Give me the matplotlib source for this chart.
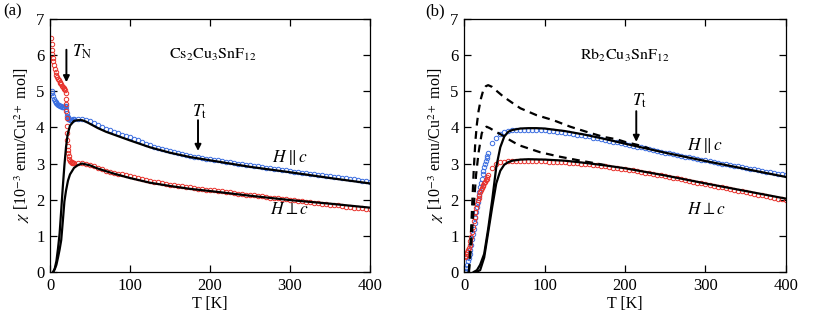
import matplotlib
matplotlib.use("Agg")
import matplotlib.pyplot as plt

plt.rcParams['font.family'] = ['Liberation Serif', 'DejaVu Serif']
plt.rcParams['mathtext.fontset'] = 'stix'

RED = '#e8322c'
BLUE = '#3b6ee0'

# ---------------- (a) Cs2Cu3SnF12 ----------------
t_grid = list(range(30, 405, 5))

cs_par_lowT = [2, 3, 4, 5, 6, 7, 8, 9, 10, 11, 12, 13, 14, 15, 16, 17, 18, 19, 20,
               20.5, 21, 21.5, 22, 22.5, 23, 24, 25, 26, 27, 28, 29]
cs_par_lowV = [5.02, 4.95, 4.88, 4.80, 4.74, 4.70, 4.67, 4.65, 4.63, 4.61, 4.60, 4.59,
               4.58, 4.57, 4.56, 4.56, 4.56, 4.60, 4.58, 4.50, 4.40, 4.33, 4.28, 4.25,
               4.23, 4.22, 4.21, 4.21, 4.21, 4.21, 4.22]
cs_par_hiV = [4.22, 4.22, 4.22, 4.21, 4.18, 4.13, 4.08, 4.02, 3.97, 3.92, 3.88, 3.84,
              3.80, 3.77, 3.74, 3.69, 3.64, 3.59, 3.55, 3.51, 3.47, 3.43, 3.40, 3.37,
              3.34, 3.31, 3.28, 3.26, 3.23, 3.21, 3.19, 3.17, 3.15, 3.14, 3.12, 3.10,
              3.09, 3.07, 3.05, 3.03, 3.02, 3.00, 2.99, 2.97, 2.95, 2.94, 2.92, 2.91,
              2.89, 2.88, 2.86, 2.85, 2.83, 2.82, 2.80, 2.78, 2.77, 2.75, 2.74, 2.72,
              2.71, 2.69, 2.68, 2.66, 2.65, 2.63, 2.62, 2.60, 2.59, 2.57, 2.56, 2.54,
              2.53, 2.51, 2.50]

cs_perp_lowT = [1.5, 2, 2.5, 3, 3.5, 4, 5, 6, 7, 8, 9, 10, 11, 12, 13, 14, 15, 16, 17,
                18, 19, 19.5, 20, 20.3, 20.6, 20.9, 21.2, 21.5, 21.8, 22.1, 22.5, 23,
                23.5, 24, 25, 26, 27, 28, 29]
cs_perp_lowV = [6.48, 6.30, 6.15, 6.03, 5.93, 5.85, 5.72, 5.62, 5.53, 5.46, 5.40, 5.35,
                5.30, 5.26, 5.22, 5.19, 5.16, 5.13, 5.10, 5.07, 5.03, 4.95, 4.80, 4.65,
                4.45, 4.25, 4.05, 3.85, 3.65, 3.50, 3.38, 3.28, 3.20, 3.14, 3.08, 3.05,
                3.03, 3.02, 3.02]
cs_perp_hiV = [3.02, 3.02, 3.02, 3.00, 2.96, 2.92, 2.88, 2.84, 2.80, 2.77, 2.74, 2.72,
               2.70, 2.68, 2.66, 2.63, 2.60, 2.57, 2.55, 2.52, 2.50, 2.48, 2.46, 2.44,
               2.42, 2.40, 2.38, 2.37, 2.35, 2.34, 2.32, 2.31, 2.29, 2.28, 2.27, 2.26,
               2.24, 2.23, 2.21, 2.20, 2.19, 2.17, 2.16, 2.14, 2.13, 2.12, 2.10, 2.09,
               2.08, 2.06, 2.05, 2.04, 2.02, 2.01, 2.00, 1.99, 1.97, 1.96, 1.94, 1.93,
               1.92, 1.90, 1.89, 1.88, 1.86, 1.85, 1.84, 1.82, 1.81, 1.80, 1.78, 1.77,
               1.76, 1.74, 1.73]

cs_fit_par_T = [4, 6, 8, 10, 12, 14, 16, 18, 20, 22, 25, 30, 35, 40, 45, 50, 60, 70, 80,
                100, 125, 150, 175, 200, 250, 300, 350, 400]
cs_fit_par_V = [0, 0.1, 0.3, 0.65, 1.06, 1.7, 2.35, 2.95, 3.45, 3.8, 4.05, 4.18, 4.2,
                4.2, 4.16, 4.1, 3.98, 3.88, 3.8, 3.64, 3.45, 3.3, 3.18, 3.09, 2.91, 2.76,
                2.6, 2.45]
cs_fit_perp_T = [4, 6, 8, 10, 12, 14, 16, 18, 20, 22.5, 25, 30, 35, 40, 50, 60, 80, 100,
                 125, 150, 175, 200, 250, 300, 350, 400]
cs_fit_perp_V = [0, 0.08, 0.2, 0.4, 0.62, 0.88, 1.4, 1.95, 2.25, 2.53, 2.7, 2.88, 2.96,
                 3.0, 2.95, 2.86, 2.72, 2.6, 2.47, 2.38, 2.3, 2.24, 2.11, 1.99, 1.89, 1.78]

# ---------------- (b) Rb2Cu3SnF12 ----------------
rb_lowT = [1.5, 2, 3, 4, 5, 6, 7, 8, 9, 10, 11, 12, 13, 14, 15, 16, 17, 18, 19, 20, 21,
           22, 23, 24, 25, 26, 27, 28, 29]
rb_par_lowV = [0.0, 0.02, 0.1, 0.2, 0.3, 0.4, 0.5, 0.6, 0.75, 0.9, 1.05, 1.2, 1.35, 1.5,
               1.65, 1.8, 1.95, 2.1, 2.22, 2.34, 2.46, 2.58, 2.7, 2.8, 2.9, 3.0, 3.08,
               3.15, 3.22]
rb_par_hiV = [3.28, 3.56, 3.72, 3.82, 3.88, 3.91, 3.93, 3.94, 3.94, 3.94, 3.94, 3.94,
              3.93, 3.93, 3.92, 3.91, 3.90, 3.88, 3.87, 3.85, 3.84, 3.82, 3.80, 3.78,
              3.77, 3.75, 3.72, 3.70, 3.68, 3.66, 3.63, 3.61, 3.59, 3.56, 3.54, 3.52,
              3.50, 3.47, 3.45, 3.42, 3.40, 3.38, 3.35, 3.33, 3.30, 3.28, 3.26, 3.24,
              3.21, 3.19, 3.17, 3.15, 3.13, 3.11, 3.09, 3.07, 3.04, 3.02, 3.00, 2.98,
              2.96, 2.94, 2.92, 2.90, 2.88, 2.86, 2.84, 2.82, 2.80, 2.78, 2.76, 2.74,
              2.72, 2.70, 2.68]
rb_perp_lowV = [0.42, 0.45, 0.5, 0.55, 0.6, 0.65, 0.75, 0.85, 0.98, 1.1, 1.25, 1.4, 1.52,
                1.65, 1.78, 1.88, 1.98, 2.06, 2.13, 2.2, 2.26, 2.32, 2.37, 2.42, 2.46,
                2.5, 2.54, 2.58, 2.62]
rb_perp_hiV = [2.68, 2.88, 2.98, 3.03, 3.05, 3.06, 3.07, 3.07, 3.07, 3.07, 3.07, 3.07,
               3.06, 3.06, 3.06, 3.05, 3.05, 3.04, 3.04, 3.03, 3.02, 3.02, 3.01, 3.00,
               2.99, 2.98, 2.97, 2.95, 2.94, 2.93, 2.91, 2.89, 2.88, 2.86, 2.85, 2.83,
               2.81, 2.79, 2.77, 2.75, 2.73, 2.71, 2.69, 2.67, 2.65, 2.63, 2.61, 2.59,
               2.56, 2.54, 2.52, 2.50, 2.47, 2.45, 2.43, 2.41, 2.38, 2.36, 2.34, 2.32,
               2.30, 2.27, 2.25, 2.23, 2.21, 2.19, 2.16, 2.14, 2.12, 2.10, 2.07, 2.05,
               2.03, 2.01, 1.98]

rb_fit_par_T = [12, 16, 20, 25, 30, 35, 40, 45, 50, 55, 60, 70, 80, 90, 100, 125, 150,
                175, 200, 250, 300, 350, 400]
rb_fit_par_V = [0, 0.05, 0.2, 0.5, 1.2, 2.0, 2.9, 3.45, 3.75, 3.88, 3.93, 3.97, 3.98,
                3.98, 3.97, 3.9, 3.8, 3.68, 3.55, 3.3, 3.07, 2.85, 2.63]
rb_fit_perp_T = [15, 20, 25, 30, 35, 40, 45, 50, 55, 60, 70, 80, 100, 125, 150, 175, 200,
                 250, 300, 350, 400]
rb_fit_perp_V = [0, 0.05, 0.4, 1.1, 1.8, 2.45, 2.8, 2.97, 3.04, 3.08, 3.11, 3.12, 3.11,
                 3.08, 3.02, 2.95, 2.87, 2.67, 2.45, 2.24, 2.03]
rb_dash_par_T = [6, 8, 10, 12, 14, 16, 18, 21, 24, 27, 30, 35, 40, 49, 60, 70, 90, 111,
                 132, 152, 173, 190, 200, 215, 230]
rb_dash_par_V = [0, 0.8, 1.8, 2.8, 3.6, 4.1, 4.45, 4.8, 5.04, 5.14, 5.17, 5.12, 5.02,
                 4.85, 4.68, 4.53, 4.34, 4.2, 4.02, 3.88, 3.74, 3.67, 3.6, 3.52, 3.42]
rb_dash_perp_T = [6, 9, 12, 15, 18, 22, 25, 28, 32, 38, 47, 57, 68, 80, 95, 119, 140,
                  160, 175]
rb_dash_perp_V = [0, 0.8, 1.8, 2.7, 3.3, 3.84, 3.97, 4.02, 3.98, 3.9, 3.79, 3.65, 3.51,
                  3.42, 3.31, 3.19, 3.1, 3.02, 2.96]

fig = plt.figure(figsize=(8.17, 3.17), dpi=100)
ax1 = fig.add_axes([0.0612, 0.142, 0.3917, 0.798])
ax2 = fig.add_axes([0.568, 0.142, 0.394, 0.798])

mk = dict(ls='none', marker='o', ms=3.2, mfc='none', mew=0.7)


def style(ax):
    ax.set_xlim(0, 400)
    ax.set_ylim(0, 7)
    ax.set_xticks([0, 100, 200, 300, 400])
    ax.set_yticks(range(0, 8))
    ax.tick_params(direction='in', top=True, right=True, length=5, width=0.9,
                   labelsize=12, pad=4)
    for s in ax.spines.values():
        s.set_linewidth(0.9)
    ax.set_xlabel('T [K]', fontsize=11.5, labelpad=2)
    ax.set_ylabel(r'$\chi$ [10$^{-3}$ emu/Cu$^{2+}$ mol]', fontsize=11.5, labelpad=3)


def arrow(ax, x, y0, y1):
    ax.annotate('', xy=(x, y1), xytext=(x, y0),
                arrowprops=dict(arrowstyle='-|>', color='k', lw=1.4, mutation_scale=9,
                                shrinkA=0, shrinkB=0))


# panel (a)
ax1.plot(cs_par_lowT, cs_par_lowV, color=BLUE, **mk)
ax1.plot(t_grid, cs_par_hiV, color=BLUE, **mk)
ax1.plot(cs_perp_lowT, cs_perp_lowV, color=RED, **mk)
ax1.plot(t_grid, cs_perp_hiV, color=RED, **mk)
ax1.plot(cs_fit_par_T, cs_fit_par_V, color='k', lw=1.6)
ax1.plot(cs_fit_perp_T, cs_fit_perp_V, color='k', lw=1.6)
style(ax1)
ax1.text(204, 6.0, r'$\mathrm{Cs_2Cu_3SnF_{12}}$', fontsize=11.5, ha='center', va='center')
ax1.text(27, 6.1, r'$T_{\mathrm{N}}$', fontsize=12.5, ha='left', va='center')
arrow(ax1, 20.5, 6.15, 5.25)
ax1.text(187, 4.43, r'$T_{\mathrm{t}}$', fontsize=12.5, ha='center', va='center')
arrow(ax1, 185, 4.2, 3.35)
ax1.text(300, 3.18, r'$H\parallel c$', fontsize=12.5, ha='center', va='center')
ax1.text(300, 1.71, r'$H\perp c$', fontsize=12.5, ha='center', va='center')

# panel (b)
ax2.plot(rb_lowT, rb_par_lowV, color=BLUE, **mk)
ax2.plot(t_grid, rb_par_hiV, color=BLUE, **mk)
ax2.plot(rb_lowT, rb_perp_lowV, color=RED, **mk)
ax2.plot(t_grid, rb_perp_hiV, color=RED, **mk)
ax2.plot(rb_fit_par_T, rb_fit_par_V, color='k', lw=1.6)
ax2.plot(rb_fit_perp_T, rb_fit_perp_V, color='k', lw=1.6)
ax2.plot(rb_dash_par_T, rb_dash_par_V, color='k', lw=1.6, dashes=(3.5, 2.5))
ax2.plot(rb_dash_perp_T, rb_dash_perp_V, color='k', lw=1.6, dashes=(3.5, 2.5))
style(ax2)
ax2.text(200, 6.0, r'$\mathrm{Rb_2Cu_3SnF_{12}}$', fontsize=11.5, ha='center', va='center')
ax2.text(218, 4.75, r'$T_{\mathrm{t}}$', fontsize=12.5, ha='center', va='center')
arrow(ax2, 214, 4.45, 3.6)
ax2.text(299, 3.51, r'$H\parallel c$', fontsize=12.5, ha='center', va='center')
ax2.text(301, 1.72, r'$H\perp c$', fontsize=12.5, ha='center', va='center')

fig.text(0.004, 0.965, '(a)', fontsize=12, ha='left', va='center')
fig.text(0.521, 0.965, '(b)', fontsize=12, ha='left', va='center')

fig.savefig('out.png', dpi=100)
